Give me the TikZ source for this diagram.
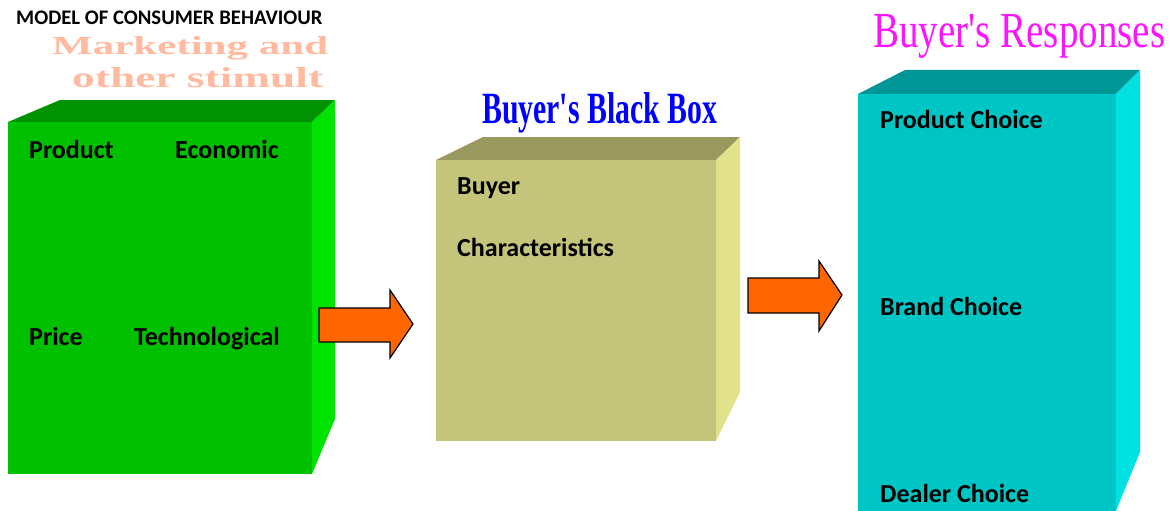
\documentclass[tikz,border=0pt]{standalone}
\usepackage{fontspec}
\setmainfont{Carlito}
\newfontfamily\titlefont{Liberation Serif}
\usepackage{graphicx}
\definecolor{gfront}{RGB}{0,192,0}
\definecolor{gtop}{RGB}{0,146,0}
\definecolor{gside}{RGB}{0,226,0}
\definecolor{yfront}{RGB}{196,196,122}
\definecolor{ytop}{RGB}{153,153,94}
\definecolor{yside}{RGB}{226,226,138}
\definecolor{tfront}{RGB}{0,197,197}
\definecolor{ttop}{RGB}{0,150,150}
\definecolor{tside}{RGB}{0,226,226}
\definecolor{arroworange}{RGB}{255,102,0}
\definecolor{peach}{RGB}{255,186,160}
\definecolor{titleblue}{RGB}{0,0,255}
\definecolor{titlemagenta}{RGB}{255,20,255}
\tikzset{
  label/.style={anchor=base west, inner sep=0pt, font=\fontsize{26}{31}\selectfont\bfseries, text=black},
  fancy/.style={anchor=base west, inner sep=0pt},
  blockarrow/.style={fill=arroworange, draw=black, line width=1.2pt, line join=miter}
}
\begin{document}
\begin{tikzpicture}[x=1pt,y=-1pt]
\useasboundingbox (0,0) rectangle (1172,511);
% green box
\fill[gtop] (8,122) -- (60,100) -- (335,100) -- (312,122) -- cycle;
\fill[gside] (312,122) -- (335,100) -- (335,419) -- (312,474) -- cycle;
\fill[gfront] (8,122) rectangle (312,474);
% yellow box
\fill[ytop] (436,160) -- (483,137) -- (740,137) -- (716,160) -- cycle;
\fill[yside] (716,160) -- (740,137) -- (740,392) -- (716,441) -- cycle;
\fill[yfront] (436,160) rectangle (716,441);
% teal box
\fill[ttop] (858,94) -- (905,70) -- (1140,70) -- (1116,94) -- cycle;
\fill[tside] (1116,94) -- (1140,70) -- (1140,452) -- (1116,511) -- cycle;
\fill[tfront] (858,94) rectangle (1116,511);
% block arrows
\draw[blockarrow] (319,308) -- (390,308) -- (390,290) -- (413,324) -- (390,358) -- (390,342) -- (319,342) -- cycle;
\draw[blockarrow] (748,278) -- (819,278) -- (819,261) -- (842,295) -- (819,331) -- (819,313) -- (748,313) -- cycle;
% titles
\node[anchor=base west, inner sep=0pt, font=\fontsize{20.7}{24}\selectfont\bfseries] (heading) at (16,25) {MODEL OF CONSUMER BEHAVIOUR};
\node[fancy, text=peach] (stim1) at (52,55) {\resizebox{276pt}{18pt}{\titlefont\bfseries Marketing and}};
\node[fancy, text=peach] (stim2) at (72,87) {\resizebox{251pt}{20pt}{\titlefont\bfseries other stimult}};
\node[fancy, text=titleblue] (blackbox) at (482,123) {\resizebox{235pt}{31pt}{\titlefont\bfseries Buyer's Black Box}};
\node[fancy, text=titlemagenta] (responses) at (873,48) {\resizebox{292pt}{33pt}{\titlefont Buyer's Responses}};
% labels
\node[label] (product) at (29,158) {Product};
\node[label] (economic) at (175,158) {Economic};
\node[label] (price) at (29,345) {Price};
\node[label] (tech) at (134,345) {Technological};
\node[label] (buyer) at (457,194) {Buyer};
\node[label] (charact) at (457,256) {Characteristics};
\node[label] (pchoice) at (880,128) {Product Choice};
\node[label] (bchoice) at (880,315) {Brand Choice};
\node[label] (dchoice) at (880,502) {Dealer Choice};
\end{tikzpicture}
\end{document}
